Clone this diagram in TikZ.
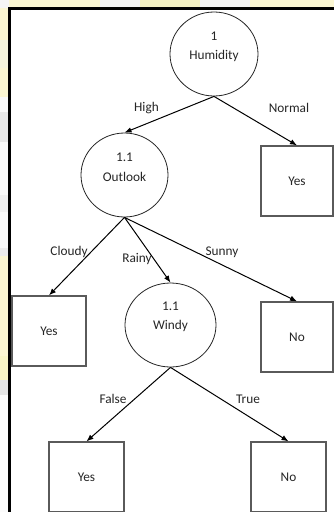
\documentclass[tikz,border=0pt]{standalone}
\usepackage{fontspec}
\setmainfont{Carlito}
\usetikzlibrary{shapes.geometric,arrows.meta}
\definecolor{bgY}{HTML}{FBF6D2}
\definecolor{boxgray}{HTML}{5A5A5A}
\definecolor{txtc}{HTML}{262626}
\tikzset{
  decision/.style={draw=black!85, line width=0.8pt, ellipse, inner sep=0pt, fill=white},
  leafbox/.style={draw=boxgray, line width=1.2pt, rectangle, inner sep=0pt, fill=white, text=txtc, font=\fontsize{13.3}{16}\selectfont},
  ntext/.style={align=center, text=txtc, font=\fontsize{13.3}{19.5}\selectfont, inner sep=0pt},
  lbl/.style={text=txtc, font=\fontsize{13.3}{16}\selectfont, inner sep=1pt},
  conn/.style={draw=black, line width=1pt, -{Latex[length=7pt,width=5.5pt]}}
}
\begin{document}
\begin{tikzpicture}[x=1pt,y=-1pt]
\useasboundingbox (0,0) rectangle (334,512);
% background
\fill[bgY] (0,0) rectangle (334,512);
\fill[fill=white!90!gray] (100,0) rectangle (250,7);
\fill[fill=white!85!gray!80!yellow] (140,0) rectangle (200,7);
\fill[fill=white!92!gray] (0,0) rectangle (9,8);
\fill[fill=white!90!gray!90!yellow] (0,40) rectangle (9,68);
\fill[fill=white!95!gray] (0,97) rectangle (9,112);
\fill[fill=white!82!gray] (0,112) rectangle (9,142);
\fill[fill=white!96!gray] (0,142) rectangle (9,195);
\fill[fill=white!88!gray] (0,195) rectangle (9,212);
\fill[fill=white!95!gray] (0,212) rectangle (9,248);
\fill[fill=white!85!gray] (0,248) rectangle (9,256);
\fill[fill=white!92!gray!80!yellow] (0,356) rectangle (9,380);
\fill[fill=white!80!gray] (0,380) rectangle (9,395);
\fill[fill=white!97!gray] (0,395) rectangle (9,512);
% panel
\fill[white] (9,8) rectangle (334,512);
\draw[line width=2.6pt] (9.3,512) -- (9.3,8.3) -- (334,8.3);
% decision nodes
\node[decision, minimum width=88pt, minimum height=84pt] (hum) at (214,54) {};
\node[ntext] (humt) at ([yshift=7pt]hum.center) {1\\Humidity};
\node[decision, minimum width=87pt, minimum height=84pt] (out) at (124.5,175) {};
\node[ntext] (outt) at ([yshift=7.5pt]out.center) {1.1\\Outlook};
\node[decision, minimum width=91pt, minimum height=84pt] (win) at (170.5,325) {};
\node[ntext] (wint) at ([yshift=8pt]win.center) {1.1\\Windy};
% leaves
\node[leafbox, minimum width=72pt, minimum height=70pt] (yesA) at (297,181) {Yes};
\node[leafbox, minimum width=74pt, minimum height=70pt] (yesB) at (49,331) {Yes};
\node[leafbox, minimum width=72pt, minimum height=70pt] (noA) at (297,337) {No};
\node[leafbox, minimum width=75pt, minimum height=70pt] (yesC) at (86.5,477) {Yes};
\node[leafbox, minimum width=75pt, minimum height=70pt] (noB) at (288.5,477) {No};
% connectors
\draw[conn] (hum.south) -- (out.north);
\draw[conn] (hum.south) -- (yesA.north);
\draw[conn] (out.south) -- (yesB.north);
\draw[conn] (out.south) -- (win.north);
\draw[conn] (out.south) -- (noA.north);
\draw[conn] (win.south) -- (yesC.north);
\draw[conn] (win.south) -- (noB.north);
% labels
\node[lbl] (lhigh) at (146.5,108) {High};
\node[lbl] (lnorm) at (289,108) {Normal};
\node[lbl] (lcloud) at (69,252) {Cloudy};
\node[lbl] (lrain) at (137,259) {Rainy};
\node[lbl] (lsun) at (222,252) {Sunny};
\node[lbl] (lfalse) at (113,399) {False};
\node[lbl] (ltrue) at (248,399) {True};
\end{tikzpicture}
\end{document}
